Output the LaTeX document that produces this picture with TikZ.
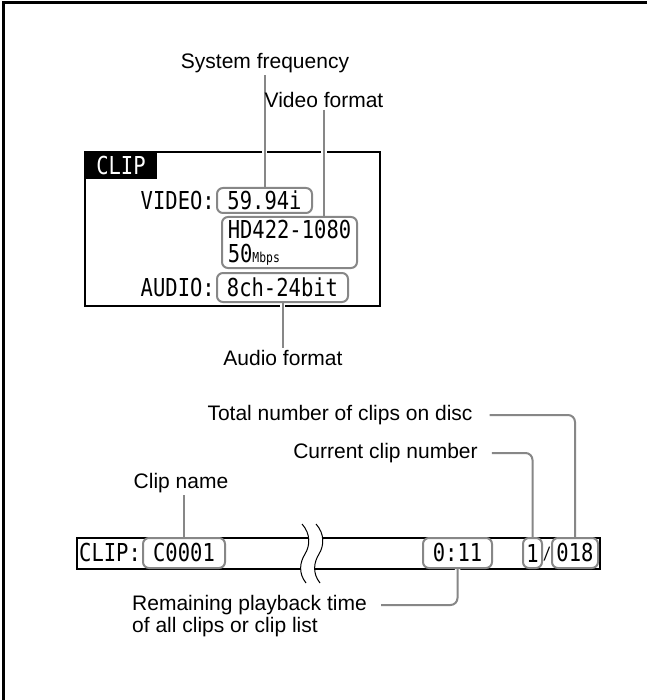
\documentclass[tikz,border=0pt]{standalone}
\usepackage{fontspec}
\setmainfont{Liberation Sans}
\newfontfamily\lcdfont[FakeStretch=0.83]{DejaVu Sans Mono}
\usetikzlibrary{positioning}
\definecolor{leadgray}{RGB}{135,135,135}
\tikzset{every picture/.style={line width=0.75pt}}
\pgfdeclarelayer{frame}
\pgfdeclarelayer{leads}
\pgfsetlayers{frame,leads,main}
\tikzset{
  lbl/.style={font=\fontsize{21}{25}\selectfont, inner sep=2pt},
  lcd/.style={font=\lcdfont\fontsize{24.7}{24}\selectfont, inner sep=0pt},
  lcdbox/.style={lcd, draw=leadgray, line width=2pt, rounded corners=6pt},
  leader/.style={draw=leadgray, line width=2pt, rounded corners=7pt,
    preaction={draw=white, line width=5.5pt}},
}

\begin{document}
\begin{tikzpicture}[x=1pt,y=1pt,yscale=-1,xscale=1]
  \useasboundingbox (0,0) rectangle (647,700);

  \begin{pgfonlayer}{frame}
    % page edge
    \draw [line width=3pt] (3,700) -- (3,3) -- (647,3);
    % CLIP screen
    \draw [line width=1.8pt] (85,152) rectangle (380,306);
    \fill (85,152) rectangle (157,179);
    \node [lcd, text=white] (cliptag) at (121,166) {CLIP};
    % status line with break
    \draw [line width=1.5pt] (308,538) -- (77,538) -- (77,569) -- (301,569);
    \draw [line width=1.5pt] (322,538) -- (600,538) -- (600,569) -- (315,569);
    \draw [line width=1pt] (302,524) .. controls (311,534) and (310,546) .. (305,554) .. controls (300,562) and (298,573) .. (306,583);
    \draw [line width=1pt] (316,524) .. controls (325,534) and (324,546) .. (319,554) .. controls (314,562) and (312,573) .. (320,583);
  \end{pgfonlayer}

  % screen contents
  \node [lcd, anchor=east] (videotag) at (215,201) {VIDEO:};
  \node [lcd, anchor=east] (audiotag) at (215,288) {AUDIO:};
  \node [lcdbox, minimum width=95pt, minimum height=25pt] (freq) at (264.5,200.5) {59.94i};
  \node [lcdbox, minimum width=135pt, minimum height=51pt, align=left] (fmt) at (289.5,242.5)
    {HD422-1080\\50{\fontsize{13.7}{24}\selectfont Mbps}};
  \node [lcdbox, minimum width=131pt, minimum height=29pt] (aud) at (282.5,287.5) {8ch-24bit};

  \node [lcd, anchor=west] (striptag) at (79,553) {CLIP:};
  \node [lcdbox, minimum width=82pt, minimum height=30pt] (cname) at (184,553) {C0001};
  \node [lcdbox, minimum width=69pt, minimum height=30pt] (remain) at (457.5,553) {0:11};
  \node [lcdbox, minimum width=19pt, minimum height=30pt] (curclip) at (532.5,553) {1};
  \node [lcd, font=\lcdfont\fontsize{17}{20}\selectfont] (slash) at (547,554) {/};
  \node [lcdbox, minimum width=46pt, minimum height=30pt] (total) at (575,553) {018};

  % labels
  \node [lbl] (sysfreq) at (265,63) {System frequency};
  \node [lbl] (vidfmt) at (324,100) {Video format};
  \node [lbl] (audlbl) at (283,358) {Audio format};
  \node [lbl] (totlbl) at (340,415) {Total number of clips on disc};
  \node [lbl] (curlbl) at (385.5,453) {Current clip number};
  \node [lbl] (namelbl) at (181,483) {Clip name};
  \node [lbl, anchor=west] (rem1) at (130,605) {Remaining playback time};
  \node [lbl, anchor=west] (rem2) at (130,627) {of all clips or clip list};

  \begin{pgfonlayer}{leads}
    \draw [leader] (freq.north) -- (freq.north |- sysfreq.south);
    \draw [leader] (vidfmt.south) -- (vidfmt.south |- fmt.north);
    \draw [leader] (aud.south) -- (aud.south |- audlbl.north);
    \draw [leader] (cname.north) -- (cname.north |- namelbl.south);
    \draw [leader] ([xshift=12pt]curlbl.east) -| (curclip.north);
    \draw [leader] ([xshift=15pt]totlbl.east) -| (total.north);
    \draw [leader] (remain.south) |- ([xshift=12pt]rem1.east);
  \end{pgfonlayer}
\end{tikzpicture}
\end{document}
